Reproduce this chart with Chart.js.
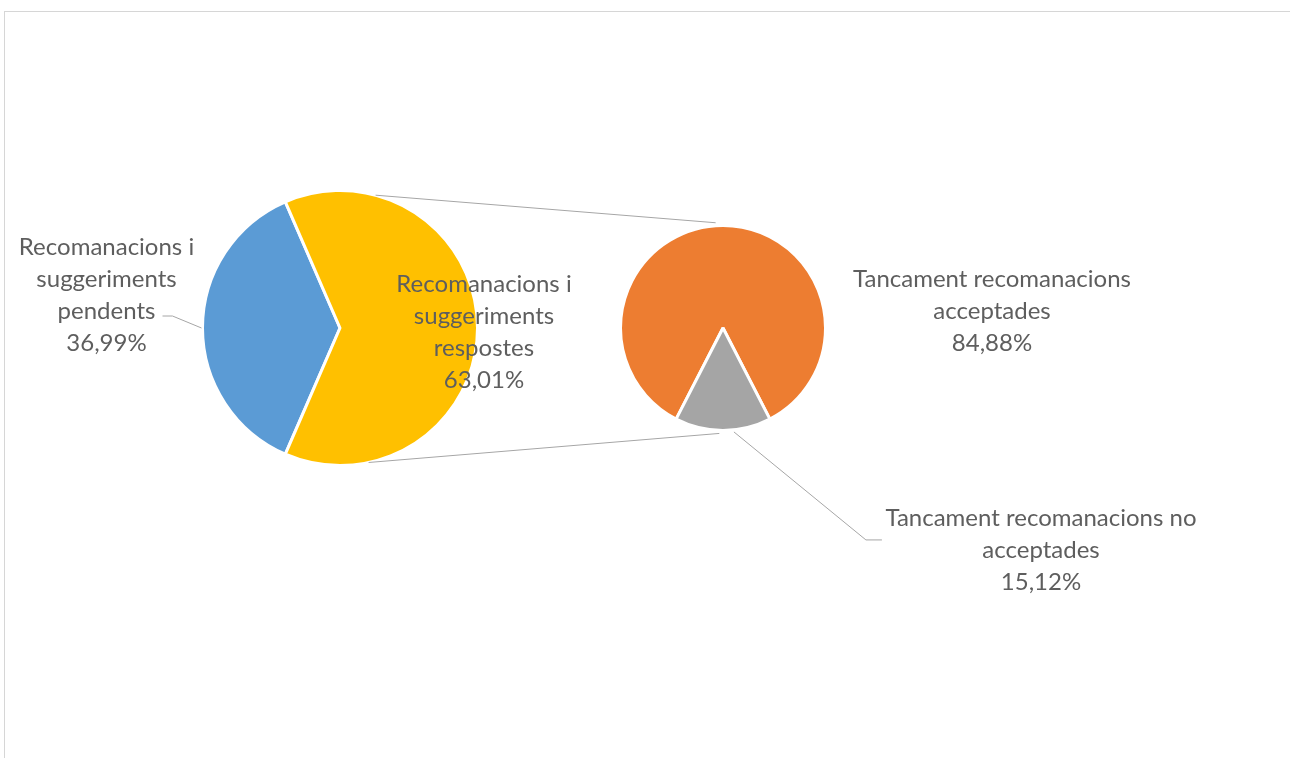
<!DOCTYPE html>
<html>
<head>
<meta charset="utf-8">
<script src="https://cdn.jsdelivr.net/npm/chart.js@4.4.0/dist/chart.umd.min.js"></script>
<style>
  body { margin: 0; background: #fff; }
  #wrap { position: relative; width: 1290px; height: 758px; overflow: hidden; }
  #frame { position: absolute; left: 4px; top: 11px; width: 1400px; height: 900px;
           border-left: 1px solid #d6d6d6; border-top: 1px solid #d6d6d6; }
  canvas { position: absolute; left: 0; top: 0; }
</style>
</head>
<body>
<div id="wrap">
  <div id="frame"></div>
  <canvas id="mainPie" width="1290" height="758"></canvas>
  <canvas id="subPie" width="1290" height="758"></canvas>
</div>
<script>
// first pie: pending vs answered
const mainLabels = [
  ['Recomanacions i', 'suggeriments', 'pendents'],
  ['Recomanacions i', 'suggeriments', 'respostes']
];
const mainValues = [36.99, 63.01];
const mainColors = ['#5b9bd5', '#ffc000'];

// second pie: breakdown of the answered ones
const subLabels = [
  ['Tancament recomanacions', 'acceptades'],
  ['Tancament recomanacions no', 'acceptades']
];
const subValues = [84.88, 15.12];
const subColors = ['#ed7d31', '#a5a5a5'];

const textColor = '#5e5e5e';
const lineColor = '#a6a6a6';
const fontFamily = 'Lato, "Open Sans", sans-serif';
const fontSize = 24;
const lineH = 32;

const pct = v => v.toFixed(2).replace('.', ',') + '%';

function arcPoint(arc, deg, r) {
  const a = deg * Math.PI / 180;
  return [arc.x + Math.cos(a) * (r ?? arc.outerRadius), arc.y + Math.sin(a) * (r ?? arc.outerRadius)];
}

function drawBlock(ctx, lines, cx, y) {
  lines.forEach((t, i) => ctx.fillText(t, cx, y + i * lineH));
}

const mainChart = new Chart(document.getElementById('mainPie'), {
  type: 'pie',
  data: {
    labels: mainLabels.map(l => l.join(' ')),
    datasets: [{
      data: mainValues,
      backgroundColor: mainColors,
      borderColor: '#ffffff',
      borderWidth: 3
    }]
  },
  options: {
    responsive: false,
    animation: false,
    // pending slice centred on the left, answered slice faces the second pie
    rotation: 270 - mainValues[0] * 3.6 / 2,
    layout: { padding: { left: 201, top: 189, right: 811, bottom: 291 } },
    plugins: { legend: { display: false }, tooltip: { enabled: false } }
  }
});

const subChart = new Chart(document.getElementById('subPie'), {
  type: 'pie',
  data: {
    labels: subLabels.map(l => l.join(' ')),
    datasets: [{
      data: subValues,
      backgroundColor: subColors,
      borderColor: '#ffffff',
      borderWidth: 3
    }]
  },
  options: {
    responsive: false,
    animation: false,
    // small slice centred at the bottom
    rotation: 180 + subValues[1] * 3.6 / 2,
    layout: { padding: { left: 619, top: 224, right: 463, bottom: 326 } },
    plugins: { legend: { display: false }, tooltip: { enabled: false } }
  },
  plugins: [{
    id: 'pieOfPie',
    afterDraw(chart) {
      const ctx = chart.ctx;
      const m = mainChart.getDatasetMeta(0).data;
      const s = chart.getDatasetMeta(0).data;
      const mArc = m[0], sArc = s[0];

      ctx.save();
      ctx.strokeStyle = lineColor;
      ctx.lineWidth = 1;

      // connector lines between the two pies
      let p1 = arcPoint(mArc, -75), p2 = arcPoint(sArc, -94, sArc.outerRadius + 3);
      ctx.beginPath(); ctx.moveTo(p1[0], p1[1]); ctx.lineTo(p2[0], p2[1]); ctx.stroke();
      p1 = arcPoint(mArc, 78); p2 = arcPoint(sArc, 92, sArc.outerRadius + 3);
      ctx.beginPath(); ctx.moveTo(p1[0], p1[1]); ctx.lineTo(p2[0], p2[1]); ctx.stroke();

      // leader for the pending label
      const b = arcPoint(mArc, 180);
      ctx.beginPath();
      ctx.moveTo(b[0] - 1, b[1]);
      ctx.lineTo(b[0] - 30, b[1] - 12);
      ctx.lineTo(b[0] - 40, b[1] - 12);
      ctx.stroke();

      // leader for the not-accepted label
      const g = arcPoint(sArc, 84, sArc.outerRadius + 2);
      ctx.beginPath();
      ctx.moveTo(g[0], g[1]);
      ctx.lineTo(g[0] + 132, g[1] + 108);
      ctx.lineTo(g[0] + 148, g[1] + 108);
      ctx.stroke();

      // labels
      ctx.fillStyle = textColor;
      ctx.font = fontSize + 'px ' + fontFamily;
      ctx.textAlign = 'center';
      ctx.textBaseline = 'middle';
      drawBlock(ctx, [...mainLabels[0], pct(mainValues[0])], mArc.x - mArc.outerRadius - 96, mArc.y - 81);
      drawBlock(ctx, [...mainLabels[1], pct(mainValues[1])], mArc.x + 144, mArc.y - 44);
      drawBlock(ctx, [...subLabels[0], pct(subValues[0])], sArc.x + 269, sArc.y - 49);
      drawBlock(ctx, [...subLabels[1], pct(subValues[1])], sArc.x + 318, sArc.y + 190);
      ctx.restore();
    }
  }]
});
</script>
</body>
</html>
